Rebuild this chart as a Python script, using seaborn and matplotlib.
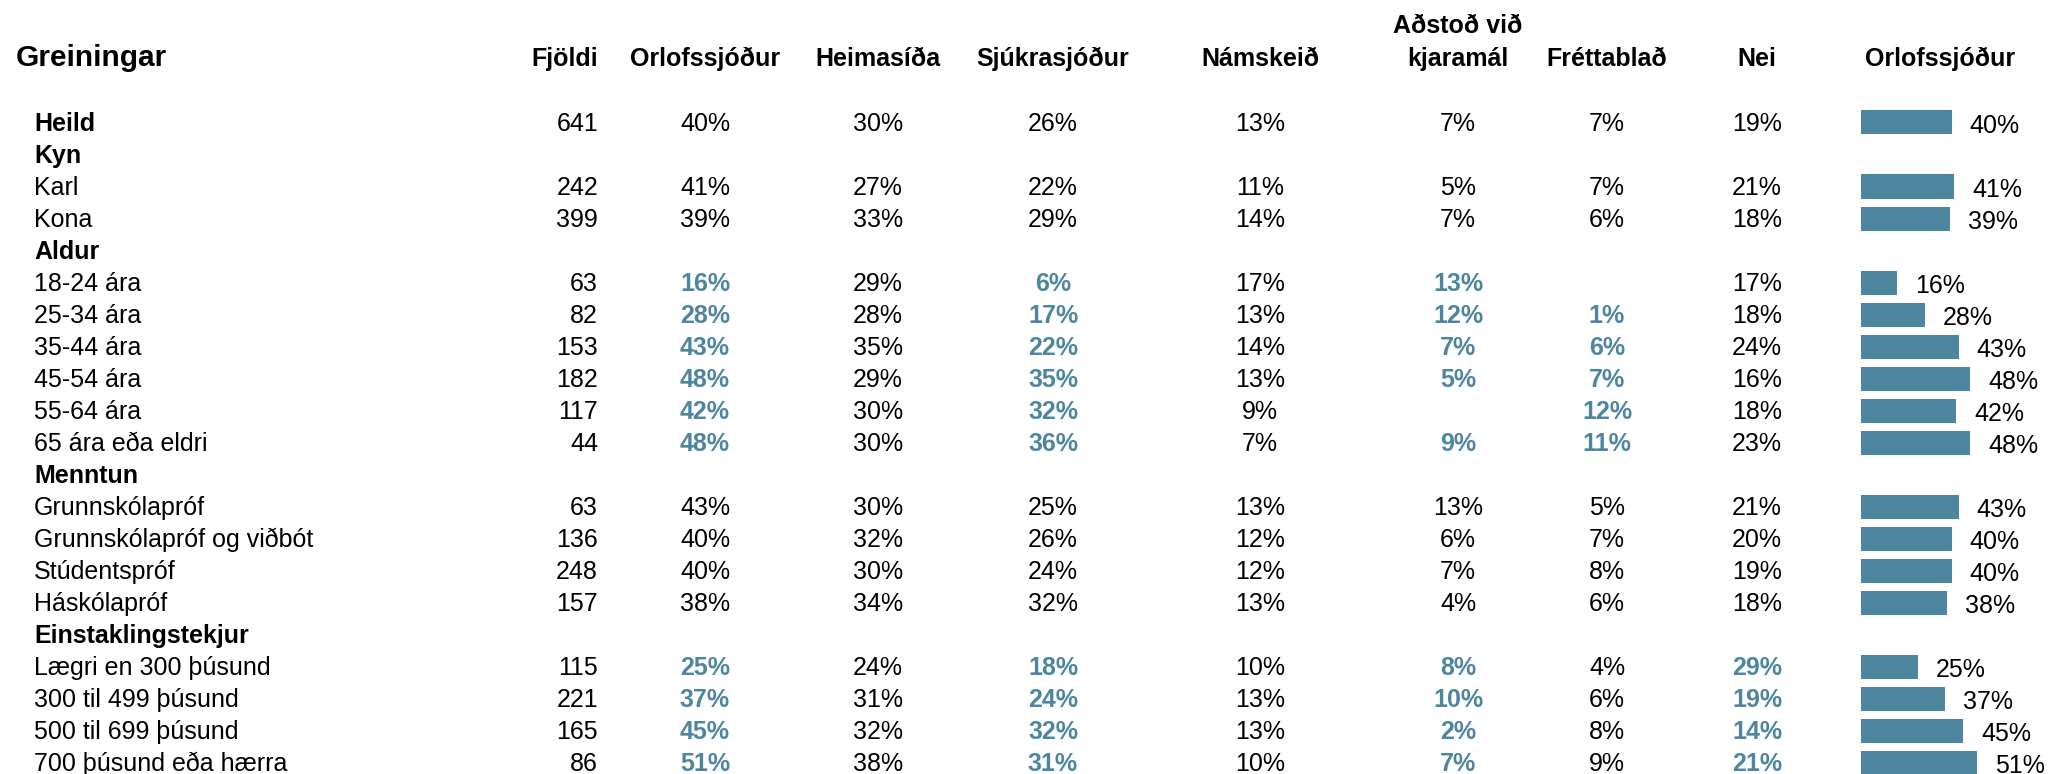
import seaborn as sns
import pandas as pd
import matplotlib.pyplot as plt

# Table data
row_labels = ["Heild", "Kyn", "Karl", "Kona", "Aldur", "18-24 ára", "25-34 ára", "35-44 ára",
              "45-54 ára", "55-64 ára", "65 ára eða eldri", "Menntun", "Grunnskólapróf",
              "Grunnskólapróf og viðbót", "Stúdentspróf", "Háskólapróf", "Einstaklingstekjur",
              "Lægri en 300 þúsund", "300 til 499 þúsund", "500 til 699 þúsund", "700 þúsund eða hærra"]
header_rows = ["Heild", "Kyn", "Aldur", "Menntun", "Einstaklingstekjur"]
row_groups = ["Heild", "Kyn", "Kyn", "Kyn", "Aldur", "Aldur", "Aldur", "Aldur", "Aldur", "Aldur", "Aldur",
              "Menntun", "Menntun", "Menntun", "Menntun", "Menntun",
              "Einstaklingstekjur", "Einstaklingstekjur", "Einstaklingstekjur", "Einstaklingstekjur",
              "Einstaklingstekjur"]

fjoldi = [641, None, 242, 399, None, 63, 82, 153, 182, 117, 44, None, 63, 136, 248, 157, None, 115, 221, 165, 86]
orlofssjodur = [40, None, 41, 39, None, 16, 28, 43, 48, 42, 48, None, 43, 40, 40, 38, None, 25, 37, 45, 51]
heimasida = [30, None, 27, 33, None, 29, 28, 35, 29, 30, 30, None, 30, 32, 30, 34, None, 24, 31, 32, 38]
sjukrasjodur = [26, None, 22, 29, None, 6, 17, 22, 35, 32, 36, None, 25, 26, 24, 32, None, 18, 24, 32, 31]
namskeid = [13, None, 11, 14, None, 17, 13, 14, 13, 9, 7, None, 13, 12, 12, 13, None, 10, 13, 13, 10]
adstod = [7, None, 5, 7, None, 13, 12, 7, 5, None, 9, None, 13, 6, 7, 4, None, 8, 10, 2, 7]
frettablad = [7, None, 7, 6, None, None, 1, 6, 7, 12, 11, None, 5, 7, 8, 6, None, 4, 6, 8, 9]
nei = [19, None, 21, 18, None, 17, 18, 24, 16, 18, 23, None, 21, 20, 19, 18, None, 29, 19, 14, 21]

# columns highlighted (bold blue) per group
highlighted = {
    "Aldur": ["Orlofssjóður", "Sjúkrasjóður", "Aðstoð", "Fréttablað"],
    "Einstaklingstekjur": ["Orlofssjóður", "Sjúkrasjóður", "Aðstoð", "Nei"],
}

BLUE = "#4e86a0"
FS = 18

sns.set_theme(style="white")
plt.rcParams["font.family"] = ["Liberation Sans", "DejaVu Sans"]
plt.rcParams["text.color"] = "black"

fig = plt.figure(figsize=(20.48, 7.74), dpi=100)
ax = fig.add_axes([0, 0, 1, 1])
ax.set_xlim(0, 2048)
ylim = (20.359, -3.828)
ax.set_ylim(*ylim)
ax.axis("off")

# header
head_y = -1.75
ax.text(16, head_y, "Greiningar", fontsize=21.5, fontweight="bold", va="baseline", ha="left")
ax.text(598, head_y, "Fjöldi", fontsize=FS, fontweight="bold", va="baseline", ha="right")
pct_cols = [
    ("Orlofssjóður", 705, orlofssjodur),
    ("Heimasíða", 878, heimasida),
    ("Sjúkrasjóður", 1053, sjukrasjodur),
    ("Námskeið", 1260, namskeid),
    ("Aðstoð", 1458, adstod),
    ("Fréttablað", 1607, frettablad),
    ("Nei", 1757, nei),
]
for name, xc, _ in pct_cols:
    if name == "Aðstoð":
        ax.text(xc, head_y - 1.05, "Aðstoð við", fontsize=FS, fontweight="bold", va="baseline", ha="center")
        ax.text(xc, head_y, "kjaramál", fontsize=FS, fontweight="bold", va="baseline", ha="center")
    else:
        ax.text(xc, head_y, name, fontsize=FS, fontweight="bold", va="baseline", ha="center")
ax.text(1940, head_y, "Orlofssjóður", fontsize=FS, fontweight="bold", va="baseline", ha="center")

# rows
off = 0.28
for i, lab in enumerate(row_labels):
    bold = lab in header_rows
    ax.text(34, i + off, lab, fontsize=FS, fontweight="bold" if bold else "normal", va="baseline", ha="left")
    if fjoldi[i] is not None:
        ax.text(598, i + off, str(fjoldi[i]), fontsize=FS, va="baseline", ha="right")
    hl = highlighted.get(row_groups[i], [])
    for name, xc, vals in pct_cols:
        v = vals[i]
        if v is None:
            continue
        is_hl = name in hl
        ax.text(xc, i + off, f"{v}%", fontsize=FS, va="baseline", ha="center",
                color=BLUE if is_hl else "black", fontweight="bold" if is_hl else "normal")

# bar column
bar_df = pd.DataFrame({"row": list(range(len(row_labels))), "value": orlofssjodur}).dropna()
bax = fig.add_axes([1861 / 2048, 0, 187 / 2048, 1])
sns.barplot(data=bar_df, x="value", y="row", orient="h", native_scale=True, color=BLUE,
            saturation=1, width=0.75, linewidth=0, ax=bax)
bax.set_ylim(*ylim)
bax.set_xlim(0, 187 / 2.27)
bax.axis("off")
for _, r in bar_df.iterrows():
    bax.annotate(f"{int(r['value'])}%", (r["value"], r["row"] + 0.34), xytext=(13, 0),
                 textcoords="offset points", fontsize=FS, va="baseline", ha="left")

fig.savefig("out.png", dpi=100)
